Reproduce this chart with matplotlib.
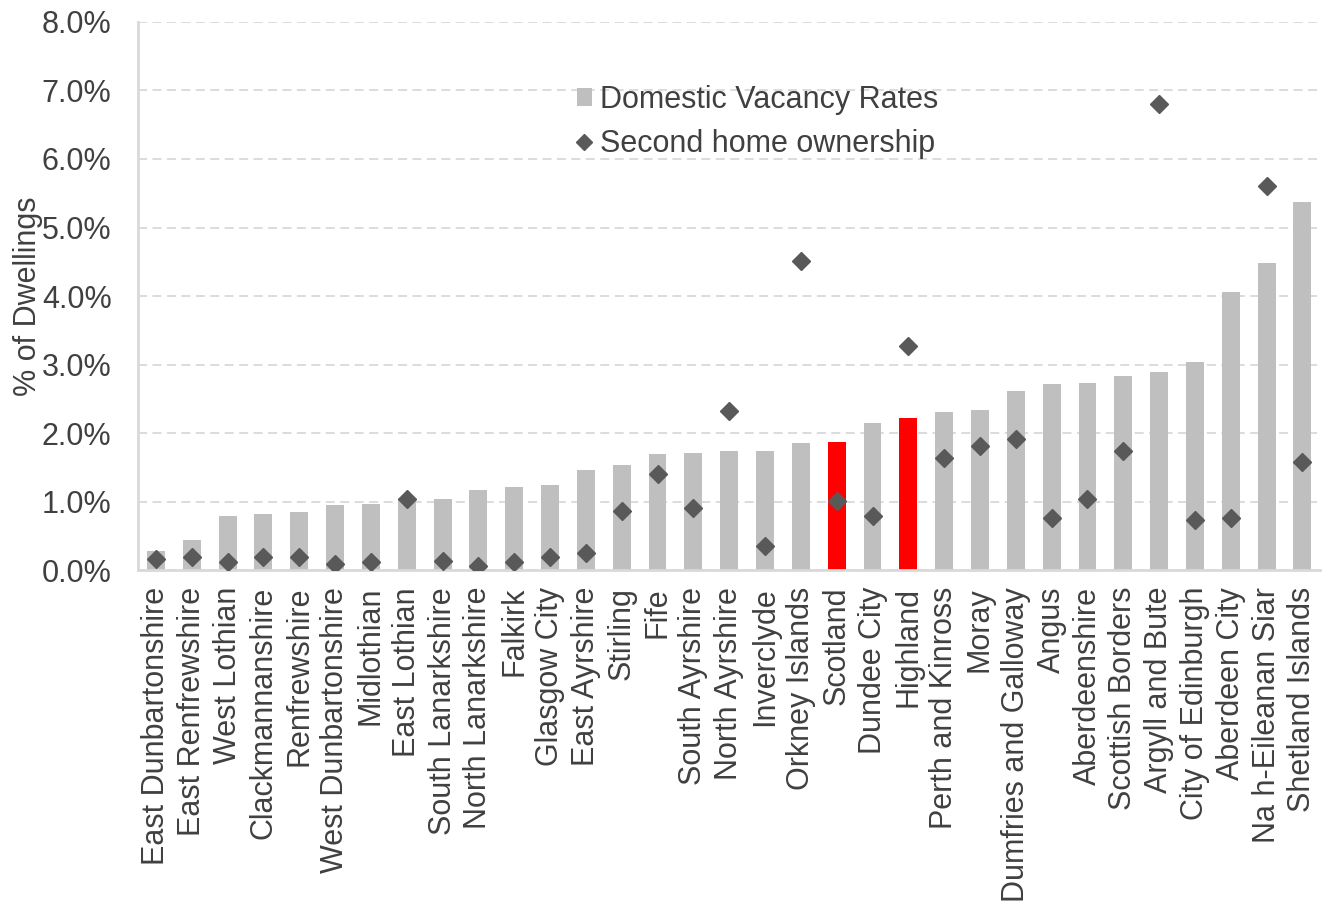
import matplotlib
matplotlib.use("Agg")
import matplotlib.pyplot as plt
from matplotlib.ticker import PercentFormatter, MultipleLocator
from matplotlib.lines import Line2D
from matplotlib.patches import Patch

plt.rcParams['font.family'] = ['Liberation Sans', 'DejaVu Sans']

categories = ["East Dunbartonshire", "East Renfrewshire", "West Lothian", "Clackmannanshire",
              "Renfrewshire", "West Dunbartonshire", "Midlothian", "East Lothian",
              "South Lanarkshire", "North Lanarkshire", "Falkirk", "Glasgow City",
              "East Ayrshire", "Stirling", "Fife", "South Ayrshire", "North Ayrshire",
              "Inverclyde", "Orkney Islands", "Scotland", "Dundee City", "Highland",
              "Perth and Kinross", "Moray", "Dumfries and Galloway", "Angus",
              "Aberdeenshire", "Scottish Borders", "Argyll and Bute", "City of Edinburgh",
              "Aberdeen City", "Na h-Eileanan Siar", "Shetland Islands"]

vacancy = [0.28, 0.44, 0.79, 0.82, 0.85, 0.95, 0.96, 1.05, 1.04, 1.17, 1.21, 1.24,
           1.47, 1.53, 1.69, 1.71, 1.74, 1.74, 1.85, 1.87, 2.15, 2.22, 2.31, 2.34,
           2.61, 2.72, 2.73, 2.83, 2.89, 3.04, 4.06, 4.48, 5.37]

second_home = [0.16, 0.19, 0.12, 0.19, 0.20, 0.09, 0.12, 1.04, 0.13, 0.06, 0.12, 0.20,
               0.25, 0.86, 1.40, 0.91, 2.32, 0.35, 4.51, 1.01, 0.79, 3.27, 1.64, 1.81,
               1.91, 0.77, 1.04, 1.74, 6.80, 0.74, 0.76, 5.61, 1.58]

highlight = ["Scotland", "Highland"]

text_color = "#404040"
grid_color = "#d9d9d9"
bar_color = "#bfbfbf"
marker_color = "#595959"
fs = 22

fig = plt.figure(figsize=(13.27, 9.11), dpi=100)
ax = fig.add_axes([0.104, 0.374, 0.891, 0.602])

x = list(range(len(categories)))
colors = ["#ff0000" if c in highlight else bar_color for c in categories]
ax.bar(x, vacancy, width=0.5, color=colors, zorder=2)
ax.plot(x, second_home, linestyle="none", marker="D", markersize=9,
        color=marker_color, zorder=3)

ax.set_xlim(-0.5, len(categories) - 0.5)
ax.set_ylim(0, 8)
ax.yaxis.set_major_locator(MultipleLocator(1))
ax.yaxis.set_major_formatter(PercentFormatter(decimals=1))
ax.grid(axis="y", color=grid_color, linestyle=(0, (5, 3)), linewidth=1.3, zorder=0)
ax.set_axisbelow(True)

for s in ["top", "right"]:
    ax.spines[s].set_visible(False)
for s in ["left", "bottom"]:
    ax.spines[s].set_color(grid_color)
    ax.spines[s].set_linewidth(2)

ax.set_xticks(x)
ax.set_xticklabels(categories, rotation=90, fontsize=fs, color=text_color)
ax.tick_params(axis="x", length=0, pad=12)
ax.tick_params(axis="y", length=0, labelsize=fs, labelcolor=text_color, pad=19)
ax.set_ylabel("% of Dwellings", fontsize=fs, color=text_color, labelpad=-1)

handles = [Patch(facecolor=bar_color, edgecolor="none"),
           Line2D([], [], linestyle="none", marker="D", markersize=8, color=marker_color)]
leg = ax.legend(handles, ["Domestic Vacancy Rates", "Second home ownership"],
                loc="upper left", bbox_to_anchor=(0.371, 0.885), frameon=False,
                borderaxespad=0, borderpad=0,
                fontsize=fs, handlelength=0.5, handleheight=0.5, handletextpad=0.27,
                labelspacing=0.45)
for t in leg.get_texts():
    t.set_color(text_color)

fig.savefig("out.png", dpi=100)
